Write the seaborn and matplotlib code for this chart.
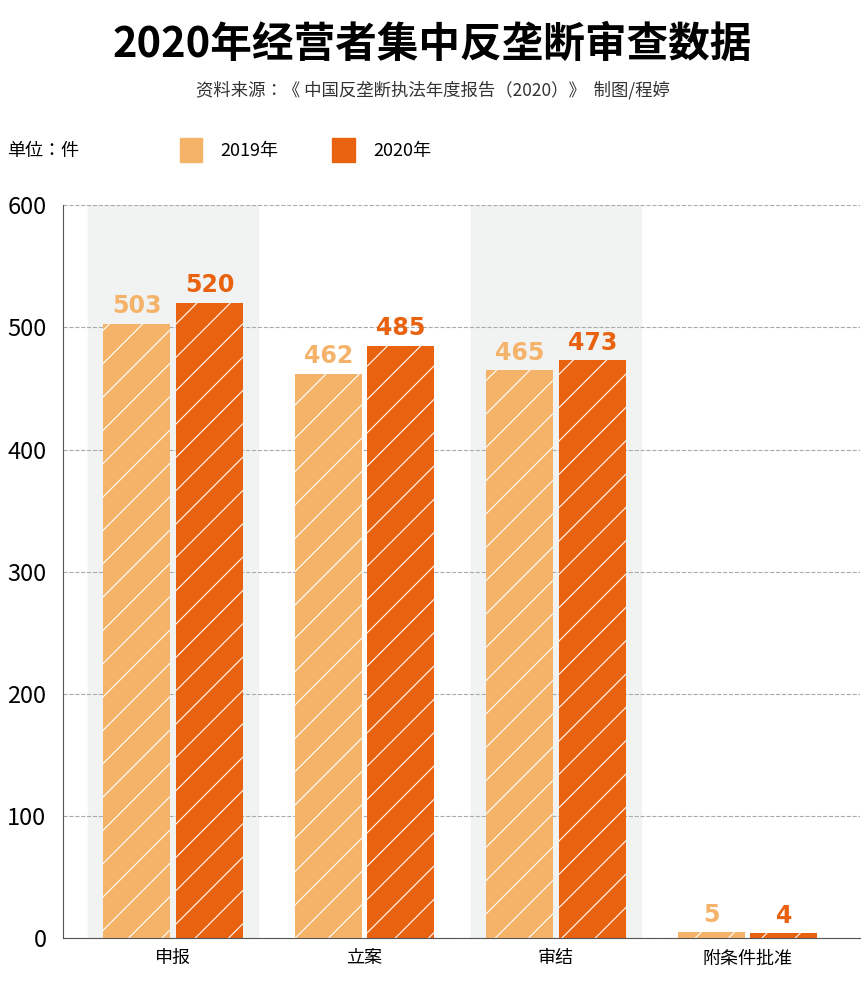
import matplotlib
matplotlib.use("Agg")
import matplotlib.pyplot as plt
import seaborn as sns
import pandas as pd

categories = ["申报", "立案", "审结", "附条件批准"]
v2019 = [503, 462, 465, 5]
v2020 = [520, 485, 473, 4]
series = ["2019年", "2020年"]
colors = {"2019年": "#F5B36A", "2020年": "#E8620F"}

CJK = ["Noto Sans CJK JP", "Noto Sans CJK SC", "Noto Sans CJK TC", "Noto Sans CJK KR", "DejaVu Sans"]
plt.rcParams["font.family"] = "sans-serif"
plt.rcParams["font.sans-serif"] = CJK
plt.rcParams["hatch.color"] = "white"
plt.rcParams["hatch.linewidth"] = 0.8

df = pd.DataFrame({"cat": categories * 2,
                   "val": v2019 + v2020,
                   "year": [series[0]] * 4 + [series[1]] * 4})

fig = plt.figure(figsize=(8.65, 9.96), dpi=100)
ax = fig.add_axes([0.073, 0.058, 0.921, 0.736])
for i in (0, 2):
    ax.axvspan(i - 0.445, i + 0.445, color="#F1F2F2", zorder=0)
sns.barplot(data=df, x="cat", y="val", hue="year", palette=colors, ax=ax,
            width=0.76, gap=0.08, legend=False, zorder=2, saturation=1)
for cont, col in zip(ax.containers, ["#F5B36A", "#E8620F"]):
    for p in cont:
        p.set_hatch("/")
        p.set_edgecolor("white")
        p.set_linewidth(0)
    ax.bar_label(cont, padding=4, color=col, fontsize=17, fontweight="bold",
                 fontfamily="DejaVu Sans")
ax.set_xlim(-0.574, 3.587)
ax.set_ylim(0, 600)
ax.set_yticks(range(0, 601, 100))
ax.yaxis.grid(True, linestyle="--", color="#AAAAAA", linewidth=0.8)
ax.set_axisbelow(True)
ax.tick_params(axis="y", length=0, labelsize=17, pad=12)
ax.tick_params(axis="x", length=0, labelsize=13, pad=8)
ax.set_xlabel(""); ax.set_ylabel("")
for s in ("top", "right"):
    ax.spines[s].set_visible(False)
ax.spines["left"].set_color("#555555")
ax.spines["bottom"].set_color("#555555")

fig.text(0.5, 0.955, "2020年经营者集中反垄断审查数据", ha="center", va="center",
         fontsize=30, fontweight="bold")
fig.text(0.5, 0.909, "资料来源：《 中国反垄断执法年度报告（2020）》  制图/程婷", ha="center",
         va="center", fontsize=12.5, color="#333333")
fig.text(0.008, 0.848, "单位：件", fontsize=13, va="center")
fig.patches.append(plt.Rectangle((0.208, 0.837), 0.026, 0.024, color="#F5B36A",
                                 transform=fig.transFigure, figure=fig))
fig.text(0.255, 0.848, "2019年", fontsize=13, va="center")
fig.patches.append(plt.Rectangle((0.384, 0.837), 0.026, 0.024, color="#E8620F",
                                 transform=fig.transFigure, figure=fig))
fig.text(0.432, 0.848, "2020年", fontsize=13, va="center")
fig.savefig("out.png", dpi=100)
